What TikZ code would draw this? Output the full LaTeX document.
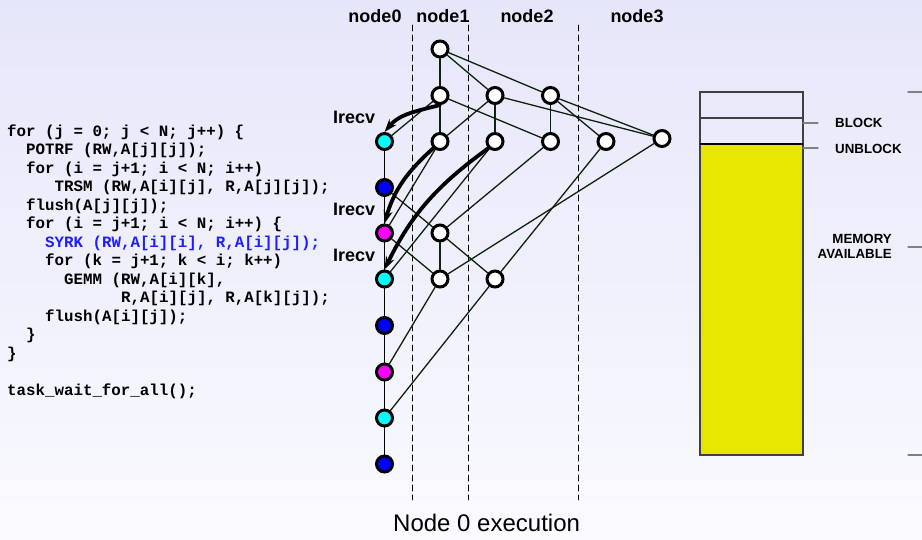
\documentclass[tikz,border=0pt]{standalone}
\usepackage{fontspec}
\setsansfont{Liberation Sans}
\setmonofont{Liberation Mono}
\usepackage{tikz}
\usetikzlibrary{arrows.meta}
\usepackage{xcolor}
\definecolor{bgtop}{RGB}{230,230,250}
\definecolor{bgbot}{RGB}{250,250,255}
\definecolor{depcol}{RGB}{12,34,12}
\definecolor{memyel}{RGB}{230,230,0}
\definecolor{codeblue}{RGB}{30,30,255}
\definecolor{potrfcol}{RGB}{0,255,255}
\definecolor{trsmcol}{RGB}{0,0,255}
\definecolor{syrkcol}{RGB}{255,0,255}
\tikzset{
  task/.style={circle,draw=black,line width=3pt,minimum size=16pt,inner sep=0pt},
  dep/.style={draw=depcol,line width=1.3pt},
  irecv/.style={->,line width=3.8pt},
  code/.style={anchor=base west,inner sep=0pt,font=\fontsize{15.8}{18.5}\selectfont\ttfamily\bfseries},
  lbl/.style={anchor=base,inner sep=0pt,font=\fontsize{18}{20}\selectfont\sffamily\bfseries},
  mem/.style={inner sep=0pt,font=\fontsize{13.3}{15}\selectfont\sffamily\bfseries}
}

\begin{document}
\begin{tikzpicture}[x=1pt,y=-1pt,>={Stealth[length=13pt,width=9pt]},line cap=round]
\shade[top color=bgtop,bottom color=bgbot] (0,0) rectangle (922,540);
\useasboundingbox (0,0) rectangle (922,540);
\node[code] (cl1) at (7,136.5) {for (j = 0; j < N; j++) \{};
\node[code] (cl2) at (26,155) {POTRF (RW,A[j][j]);};
\node[code] (cl3) at (26,173.5) {for (i = j+1; i < N; i++)};
\node[code] (cl4) at (54.5,192) {TRSM (RW,A[i][j], R,A[j][j]);};
\node[code] (cl5) at (26,210.5) {flush(A[j][j]);};
\node[code] (cl6) at (26,229) {for (i = j+1; i < N; i++) \{};
\node[code,text=codeblue] (cl7) at (45,247.5) {SYRK (RW,A[i][i], R,A[i][j]);};
\node[code] (cl8) at (45,266) {for (k = j+1; k < i; k++)};
\node[code] (cl9) at (64,284.5) {GEMM (RW,A[i][k],};
\node[code] (cl10) at (121,303) {R,A[i][j], R,A[k][j]);};
\node[code] (cl11) at (45,321.5) {flush(A[i][j]);};
\node[code] (cl12) at (26,340) {\}};
\node[code] (cl13) at (7,358.5) {\}};
\node[code] (cl14) at (7,395.5) {task\_wait\_for\_all();};
\draw[line width=0.9pt,dash pattern=on 6pt off 4pt] (412,25) -- (412,500);
\draw[line width=0.9pt,dash pattern=on 6pt off 4pt] (468,25) -- (468,500);
\draw[line width=0.9pt,dash pattern=on 6pt off 4pt] (578,25) -- (578,500);
\node[lbl] (h0) at (375,22.5) {node0};
\node[lbl] (h1) at (443,22.5) {node1};
\node[lbl] (h2) at (527,22.5) {node2};
\node[lbl] (h3) at (637,22.5) {node3};
\node[lbl,anchor=base west] (rv1) at (333,123.3) {Irecv};
\node[lbl,anchor=base west] (rv2) at (333,216) {Irecv};
\node[lbl,anchor=base west] (rv3) at (333,262) {Irecv};
\node[task,fill=white] (w0) at (440,49) {};
\node[task,fill=white] (w1a) at (440,95.5) {};
\node[task,fill=white] (w1b) at (495,95.5) {};
\node[task,fill=white] (w1c) at (550.5,95.5) {};
\node[task,fill=white] (w2a) at (440,141.5) {};
\node[task,fill=white] (w2b) at (495,141.5) {};
\node[task,fill=white] (w2c) at (550.5,141.5) {};
\node[task,fill=white] (w2d) at (606,141.5) {};
\node[task,fill=white] (w2e) at (662,138.5) {};
\node[task,fill=white] (w3a) at (440,233) {};
\node[task,fill=white] (w4a) at (440,279) {};
\node[task,fill=white] (w4b) at (495,279) {};
\node[task,fill=potrfcol] (k1) at (384.5,141.5) {};
\node[task,fill=trsmcol] (k2) at (384.5,187.5) {};
\node[task,fill=syrkcol] (k3) at (384.5,233) {};
\node[task,fill=potrfcol] (k4) at (384.5,279) {};
\node[task,fill=trsmcol] (k5) at (384.5,325.5) {};
\node[task,fill=syrkcol] (k6) at (384.5,372) {};
\node[task,fill=potrfcol] (k7) at (384.5,418) {};
\node[task,fill=trsmcol] (k8) at (384.5,464) {};
\draw[line width=1.3pt] (k1) -- (k2) -- (k3) -- (k4) -- (k5) -- (k6) -- (k7) -- (k8);
\draw[dep] (w0) -- (w1a);
\draw[dep] (w0) -- (w1b);
\draw[dep] (w0) -- (w1c);
\draw[dep] (w1a) -- (w2a);
\draw[dep] (w1a) -- (w2c);
\draw[dep] (w1a) -- (k1);
\draw[dep] (w1b) -- (w2a);
\draw[dep] (w1b) -- (w2b);
\draw[dep] (w1b) -- (w2e);
\draw[dep] (w1c) -- (w2c);
\draw[dep] (w1c) -- (w2d);
\draw[dep] (w1c) -- (w2e);
\draw[dep] (w2a) -- (k3);
\draw[dep] (w2b) -- (k4);
\draw[dep] (w2c) -- (w3a);
\draw[dep] (w2d) -- (w4b);
\draw[dep] (w2e) -- (w4a);
\draw[dep] (k2) -- (w3a);
\draw[dep] (k3) -- (w4a);
\draw[dep] (w3a) -- (w4a);
\draw[dep] (w3a) -- (w4b);
\draw[dep] (w4a) -- (k6);
\draw[dep] (w4b) -- (k7);
\draw[irecv] (w1a.south) to[out=195,in=50] (k1.north);
\draw[irecv] (w2a.south west) to[out=222,in=74] (k3.north);
\draw[irecv] (w2b.south west) to[out=216,in=64] (k4.north);
\fill[memyel] (700,144) rectangle (803,455);
\draw[black!75,line width=1.3pt] (700,92) rectangle (803,455);
\draw[black!75,line width=1.3pt] (700,118) -- (803,118);
\draw[black,line width=1.3pt] (700,144) -- (803,144);
\draw[gray,line width=1.2pt] (803,123) -- (818,123);
\draw[gray,line width=1.2pt] (803,148) -- (818,148);
\draw[gray,line width=1.2pt] (908,92) -- (922,92);
\draw[gray,line width=1.2pt] (908,247) -- (922,247);
\draw[gray,line width=1.2pt] (908,455) -- (922,455);
\node[mem,anchor=base west] (blk) at (835,127.7) {BLOCK};
\node[mem,anchor=base west] (unblk) at (835,153.3) {UNBLOCK};
\node[mem,align=right,anchor=east] (avail) at (892,246) {MEMORY\\AVAILABLE};
\node[anchor=base west,inner sep=0pt,font=\fontsize{24}{28}\selectfont\sffamily] (cap) at (393,531.7) {Node 0 execution};
\end{tikzpicture}
\end{document}
